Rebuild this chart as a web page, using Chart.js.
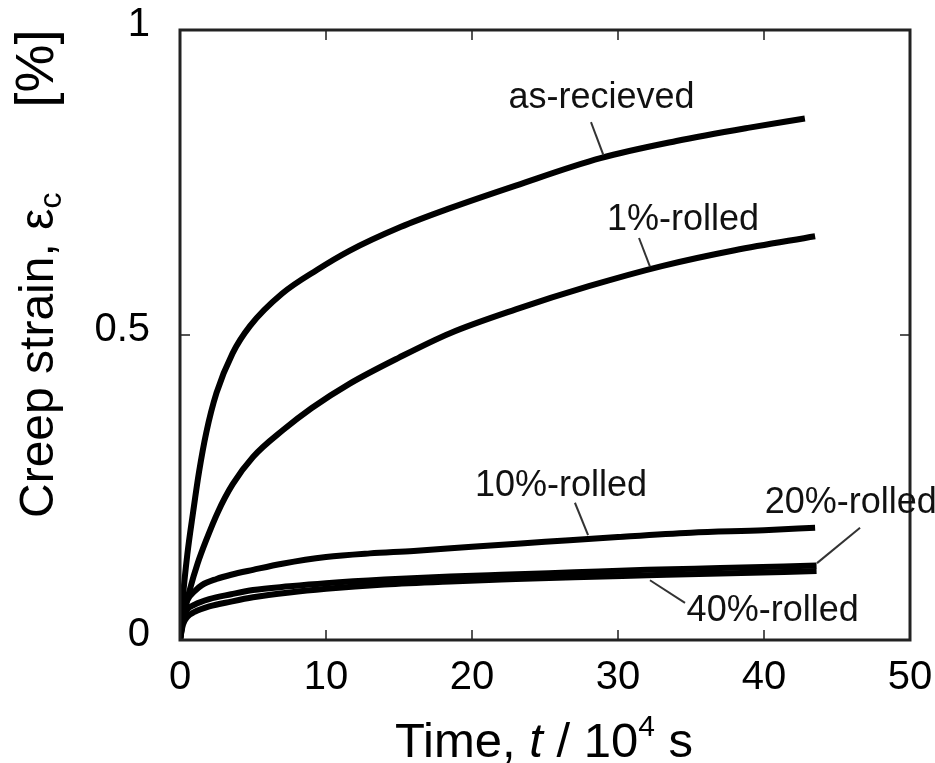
<!DOCTYPE html>
<html lang="en">
<head>
  <meta charset="UTF-8">
  <title>Creep strain vs time</title>
  <script src="https://cdn.jsdelivr.net/npm/chart.js"></script>
  <style>
    body { margin: 0; background: #fff; }
    #wrap { width: 935px; height: 763px; }
  </style>
</head>
<body>
  <div id="wrap"><canvas id="grafico" width="935" height="763"></canvas></div>

  <script>
    // time in 10^4 s, creep strain in %
    const tAsReceived = [0, 0.2, 0.5, 0.9, 1.3, 1.8, 2.5, 3.6, 4.8, 7, 9.4, 11.6, 15.1, 18.5, 23, 28.8, 34, 39, 42.8];
    const eAsReceived = [0, 0.07, 0.14, 0.21, 0.275, 0.34, 0.405, 0.47, 0.515, 0.568, 0.607, 0.638, 0.677, 0.708, 0.745, 0.79, 0.818, 0.84, 0.855];

    const t1 = [0, 0.3, 0.7, 1.2, 1.8, 2.6, 3.6, 5, 7.1, 9, 11.6, 15, 18.5, 23, 28, 33, 38, 43.5];
    const e1 = [0, 0.045, 0.085, 0.125, 0.164, 0.21, 0.255, 0.30, 0.345, 0.38, 0.42, 0.463, 0.503, 0.542, 0.58, 0.613, 0.639, 0.662];

    const t10 = [0, 0.2, 0.5, 1.0, 1.5, 2.5, 3.5, 5, 7, 10, 13, 16, 20, 25, 30, 35, 40, 43.5];
    const e10 = [0, 0.04, 0.065, 0.08, 0.09, 0.10, 0.107, 0.115, 0.125, 0.136, 0.142, 0.146, 0.153, 0.161, 0.169, 0.176, 0.180, 0.184];

    const t20 = [0, 0.2, 0.5, 1, 2, 3.5, 5, 7.5, 10, 14, 18.5, 22, 27, 32, 37, 43.6];
    const e20 = [0, 0.035, 0.05, 0.058, 0.067, 0.075, 0.082, 0.088, 0.093, 0.099, 0.104, 0.107, 0.111, 0.115, 0.118, 0.122];

    const t40 = [0, 0.2, 0.5, 1, 2, 3.5, 5, 7.5, 10, 14, 18.5, 22, 27, 32, 37, 43.6];
    const e40 = [0, 0.025, 0.038, 0.046, 0.055, 0.063, 0.070, 0.078, 0.084, 0.091, 0.096, 0.099, 0.103, 0.106, 0.109, 0.113];

    const series = ['as-recieved', '1%-rolled', '10%-rolled', '20%-rolled', '40%-rolled'];
    const xTicks = [0, 10, 20, 30, 40, 50];
    const yTicks = [0, 0.5, 1];

    const fuente = '"Liberation Sans", Arial, sans-serif';

    // labels with leader lines, placed in data units
    const notas = [
      { texto: series[0], x: 22.5, y: 0.872, linea: [[28.15, 0.849], [29.0, 0.795]] },
      { texto: series[1], x: 29.25, y: 0.672, linea: [[31.44, 0.659], [32.19, 0.612]] },
      { texto: series[2], x: 20.2, y: 0.236, linea: [[27.05, 0.225], [27.95, 0.172]] },
      { texto: series[3], x: 40.05, y: 0.208, linea: [[46.58, 0.184], [43.63, 0.126]] },
      { texto: series[4], x: 34.7, y: 0.031, linea: [[32.19, 0.098], [34.59, 0.061]] }
    ];

    function puntos(t, e) {
      return t.map((v, i) => ({ x: v, y: e[i] }));
    }

    // draws text pieces one after another (for italic, super/subscripts)
    function textoRico(ctx, partes, x0, y0) {
      let x = x0;
      partes.forEach(p => {
        if (p.gap) { x += p.gap; return; }
        ctx.font = (p.italic ? 'italic ' : '') + p.size + 'px ' + fuente;
        ctx.fillText(p.t, x, y0 + (p.dy || 0));
        x += ctx.measureText(p.t).width;
      });
    }

    const marcoPlugin = {
      id: 'marco',
      afterDraw(chart) {
        const { ctx, chartArea: a } = chart;
        const sx = chart.scales.x, sy = chart.scales.y;
        ctx.save();

        // inward ticks
        ctx.strokeStyle = '#555';
        ctx.lineWidth = 2;
        ctx.beginPath();
        xTicks.slice(1, -1).forEach(v => {
          const px = sx.getPixelForValue(v);
          ctx.moveTo(px, a.bottom); ctx.lineTo(px, a.bottom - 10);
          ctx.moveTo(px, a.top); ctx.lineTo(px, a.top + 10);
        });
        yTicks.slice(1, -1).forEach(v => {
          const py = sy.getPixelForValue(v);
          ctx.moveTo(a.left, py); ctx.lineTo(a.left + 10, py);
          ctx.moveTo(a.right, py); ctx.lineTo(a.right - 10, py);
        });
        ctx.stroke();

        // frame
        ctx.strokeStyle = '#222';
        ctx.lineWidth = 3;
        ctx.strokeRect(a.left, a.top, a.right - a.left, a.bottom - a.top);

        // annotations
        ctx.fillStyle = '#111';
        ctx.strokeStyle = '#333';
        ctx.lineWidth = 2;
        ctx.textAlign = 'left';
        ctx.textBaseline = 'alphabetic';
        ctx.font = '36px ' + fuente;
        notas.forEach(n => {
          ctx.fillText(n.texto, sx.getPixelForValue(n.x), sy.getPixelForValue(n.y));
          ctx.beginPath();
          ctx.moveTo(sx.getPixelForValue(n.linea[0][0]), sy.getPixelForValue(n.linea[0][1]));
          ctx.lineTo(sx.getPixelForValue(n.linea[1][0]), sy.getPixelForValue(n.linea[1][1]));
          ctx.stroke();
        });

        // axis titles
        ctx.fillStyle = '#000';
        textoRico(ctx, [
          { t: 'Time, ', size: 49 },
          { t: 't', size: 49, italic: true },
          { t: ' / 10', size: 49 },
          { t: '4', size: 30, dy: -21 },
          { t: ' s', size: 49 }
        ], 395, 757);

        ctx.translate(53, 518);
        ctx.rotate(-Math.PI / 2);
        textoRico(ctx, [
          { t: 'Creep strain, ', size: 48 },
          { t: 'ε', size: 48 },
          { t: 'c', size: 32, dy: 8 },
          { gap: 85 },
          { t: '[%]', size: 54 }
        ], 0, 0);

        ctx.restore();
      }
    };

    const estilo = {
      borderColor: '#000',
      borderWidth: 6,
      pointRadius: 0,
      fill: false,
      cubicInterpolationMode: 'monotone'
    };

    const ctx = document.getElementById('grafico').getContext('2d');
    const grafico = new Chart(ctx, {
      type: 'line',
      data: {
        datasets: [
          { label: series[0], data: puntos(tAsReceived, eAsReceived), ...estilo },
          { label: series[1], data: puntos(t1, e1), ...estilo },
          { label: series[2], data: puntos(t10, e10), ...estilo },
          { label: series[3], data: puntos(t20, e20), ...estilo },
          { label: series[4], data: puntos(t40, e40), ...estilo }
        ]
      },
      options: {
        responsive: false,
        animation: false,
        layout: { padding: { top: 30, right: 25, left: 0, bottom: 0 } },
        plugins: {
          legend: { display: false },
          tooltip: { enabled: false }
        },
        scales: {
          x: {
            type: 'linear',
            min: 0,
            max: 50,
            afterFit: s => { s.height = 123; s.paddingLeft = 0; s.paddingRight = 0; },
            afterBuildTicks: s => { s.ticks = xTicks.map(v => ({ value: v })); },
            ticks: { color: '#000', padding: 14, font: { size: 40, family: fuente } },
            grid: { drawOnChartArea: false, drawTicks: false },
            border: { display: false }
          },
          y: {
            min: 0,
            max: 1,
            afterFit: s => { s.width = 180; s.paddingTop = 0; s.paddingBottom = 0; },
            afterBuildTicks: s => { s.ticks = yTicks.map(v => ({ value: v })); },
            ticks: {
              color: '#000', padding: 30, labelOffset: -5,
              font: { size: 40, family: fuente },
              callback: v => String(v)
            },
            grid: { drawOnChartArea: false, drawTicks: false },
            border: { display: false }
          }
        }
      },
      plugins: [marcoPlugin]
    });
  </script>
</body>
</html>
